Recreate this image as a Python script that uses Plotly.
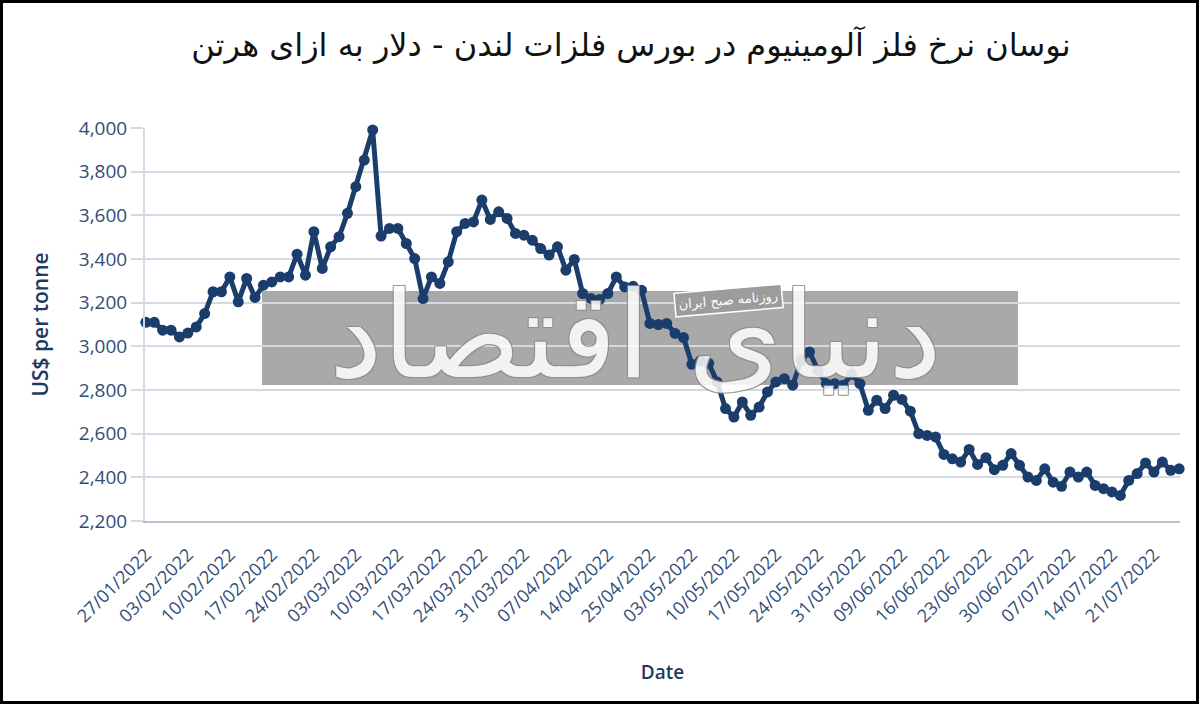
import pandas as pd
import plotly.graph_objects as go

# LME trading days 27/01/2022 .. 26/07/2022 (UK bank holidays removed)
start_date = "2022-01-27"
end_date = "2022-07-26"
holidays = ["2022-04-15", "2022-04-18", "2022-05-02", "2022-06-02", "2022-06-03"]

# aluminium price, US$ per tonne, one value per trading day
prices = [
    3110, 3110, 3074, 3074, 3043, 3061, 3089, 3150, 3250, 3250,
    3318, 3204, 3311, 3224, 3280, 3295, 3318, 3318, 3422, 3326,
    3525, 3357, 3456, 3502, 3609, 3731, 3853, 3991, 3505, 3540,
    3540, 3471, 3402, 3219, 3318, 3288, 3387, 3525, 3563, 3570,
    3670, 3581, 3616, 3586, 3517, 3509, 3486, 3448, 3418, 3456,
    3349, 3398, 3242, 3219, 3215, 3242, 3318, 3272, 3275, 3257,
    3105, 3100, 3105, 3059, 3040, 2918, 2933, 2922, 2837, 2715,
    2676, 2745, 2684, 2722, 2791, 2837, 2852, 2822, 2936, 2974,
    2890, 2829, 2829, 2822, 2872, 2829, 2707, 2753, 2715, 2776,
    2757, 2703, 2600, 2592, 2585, 2505, 2485, 2470, 2528, 2459,
    2490, 2435, 2455, 2509, 2455, 2401, 2386, 2439, 2378, 2359,
    2424, 2401, 2424, 2363, 2348, 2333, 2317, 2386, 2417, 2466,
    2424, 2470, 2432, 2439,
]

days = pd.bdate_range(start_date, end_date)
days = days[~days.isin(pd.to_datetime(holidays))]
dates = [d.strftime("%d/%m/%Y") for d in days]
tick_dates = dates[::5]

y_ticks = [2200, 2400, 2600, 2800, 3000, 3200, 3400, 3600, 3800, 4000]

title_text = "نوسان نرخ فلز آلومینیوم در بورس فلزات لندن - دلار به ازای هرتن"
watermark_big = "دنیای اقتصاد"
watermark_small = "روزنامه صبح ایران"

navy = "#1b3d6b"
label_col = "#2f4d78"
grid_col = "#d3dae4"

fig = go.Figure()
fig.add_trace(go.Scatter(x=dates, y=prices,
                         mode="lines+markers",
                         line=dict(color=navy, width=5),
                         marker=dict(color=navy, size=11),
                         cliponaxis=False,
                         showlegend=False))

# plot area in pixels: x 145..1180, y 128..521
W, H = 1200, 704
L, R, T, B = 145, 20, 128, 183
pw, ph = W - L - R, H - T - B


def px(x):
    return (x - L) / pw


def py(y):
    return (H - B - y) / ph


# watermark band + outer frame
fig.add_shape(type="rect", xref="paper", yref="paper",
              x0=px(262), x1=px(1018), y0=py(385), y1=py(291),
              fillcolor="#a9a9a9", line=dict(width=0), layer="below")
fig.add_shape(type="rect", xref="paper", yref="paper",
              x0=px(1.5), x1=px(1197.5), y0=py(702.5), y1=py(1.5),
              line=dict(color="black", width=3), layer="above")

outline = "1px 1px 0 #8a8a8a, -1px -1px 0 #8a8a8a, 1px -1px 0 #8a8a8a, -1px 1px 0 #8a8a8a"
fig.add_annotation(xref="paper", yref="paper", x=px(635), y=py(335),
                   text=watermark_big, showarrow=False, opacity=0.85,
                   font=dict(family="DejaVu Sans", size=120, color="white", shadow=outline))
fig.add_annotation(xref="paper", yref="paper", x=px(728), y=py(300),
                   text=watermark_small, showarrow=False, textangle=-5,
                   bgcolor="#9c9c9c", bordercolor="white", borderwidth=1.5, borderpad=3,
                   font=dict(family="DejaVu Sans", size=13, color="white"))

fig.update_layout(
    width=W, height=H,
    margin=dict(l=L, r=R, t=T, b=B, autoexpand=False),
    paper_bgcolor="white", plot_bgcolor="white",
    title=dict(text=title_text, x=px(631), xref="paper", y=1 - 45 / H, yanchor="middle",
               automargin=False,
               font=dict(family="DejaVu Sans", size=32, color="#111111")),
    font=dict(family="Open Sans", color=label_col),
)
fig.update_xaxes(type="category", categoryorder="array", categoryarray=dates,
                 range=[-0.1, len(dates) - 0.9], automargin=False,
                 tickmode="array", tickvals=tick_dates, ticktext=tick_dates,
                 tickangle=-45, tickfont=dict(size=18, color=label_col),
                 showgrid=False, showline=True, linecolor="#b9c1cc", linewidth=2,
                 ticks="outside", ticklen=14, tickcolor="rgba(0,0,0,0)", zeroline=False,
                 title=dict(text="Date", standoff=40,
                            font=dict(size=19, color="#1f3a62", weight=600)))
fig.update_yaxes(range=[2200, 4000], tickvals=y_ticks, tickformat=",", automargin=False,
                 tickfont=dict(size=19, color=label_col),
                 showgrid=True, gridcolor=grid_col, gridwidth=2,
                 ticks="outside", ticklen=12, tickcolor=grid_col, tickwidth=2,
                 showline=True, linecolor=grid_col, linewidth=2, zeroline=False,
                 title=dict(text="US$ per tonne", standoff=24,
                            font=dict(size=21, color="#1f3a62", weight=600)))

# page body has an 8px default margin; drop it so the figure fills the window
fig.write_html("out.html", config={"displayModeBar": False},
               post_script="document.body.style.margin='0px';")
